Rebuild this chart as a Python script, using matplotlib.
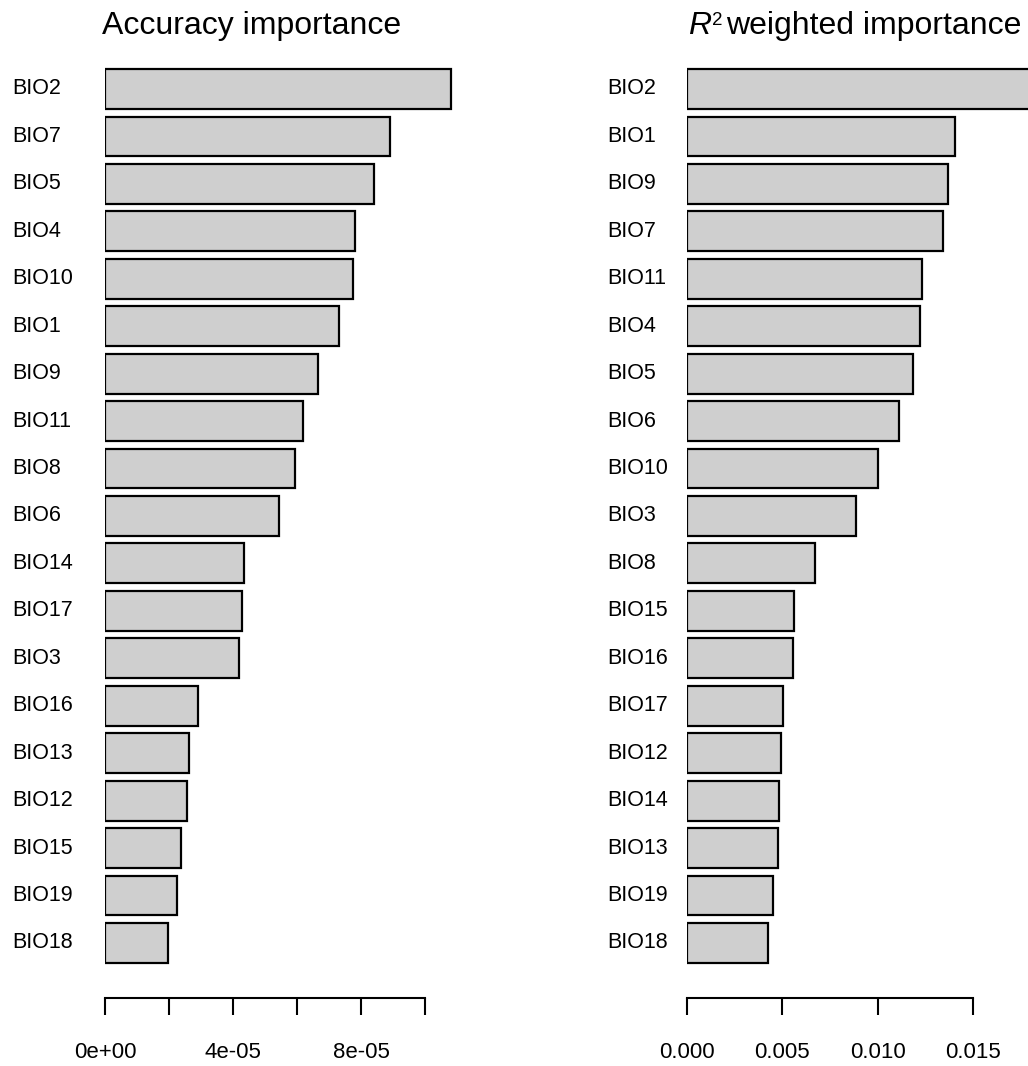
import numpy as np
import matplotlib
matplotlib.use("Agg")
import matplotlib.pyplot as plt
import matplotlib.transforms as mtrans

plt.rcParams['font.family'] = ['Liberation Sans', 'DejaVu Sans']

# Accuracy importance (sorted, top to bottom)
acc_names = ["BIO2", "BIO7", "BIO5", "BIO4", "BIO10", "BIO1", "BIO9", "BIO11", "BIO8", "BIO6",
             "BIO14", "BIO17", "BIO3", "BIO16", "BIO13", "BIO12", "BIO15", "BIO19", "BIO18"]
acc_vals = [1.081e-4, 8.91e-5, 8.41e-5, 7.81e-5, 7.75e-5, 7.31e-5, 6.66e-5, 6.19e-5, 5.94e-5, 5.44e-5,
            4.34e-5, 4.28e-5, 4.19e-5, 2.91e-5, 2.63e-5, 2.56e-5, 2.38e-5, 2.25e-5, 1.97e-5]
acc_ticks = [0, 2e-5, 4e-5, 6e-5, 8e-5, 1e-4]
acc_ticklabels = ["0e+00", "", "4e-05", "", "8e-05", ""]

# R2 weighted importance
r2_names = ["BIO2", "BIO1", "BIO9", "BIO7", "BIO11", "BIO4", "BIO5", "BIO6", "BIO10", "BIO3",
            "BIO8", "BIO15", "BIO16", "BIO17", "BIO12", "BIO14", "BIO13", "BIO19", "BIO18"]
r2_vals = [0.0185, 0.01406, 0.01369, 0.01343, 0.01233, 0.01222, 0.01185, 0.01112, 0.01002, 0.00886,
           0.00671, 0.00561, 0.00556, 0.00503, 0.00493, 0.00482, 0.00477, 0.00451, 0.00425]
r2_ticks = [0, 0.005, 0.010, 0.015]
r2_ticklabels = ["0.000", "0.005", "0.010", "0.015"]

W, H = 1028, 1066
fig = plt.figure(figsize=(W / 100, H / 100), dpi=100)

# pixel geometry
top_c, step = 89, 47.44
ax_top, ax_bot = 60, 998
ylo = (ax_bot - top_c) / step
yhi = (ax_top - top_c) / step


def panel(x0px, x1px, px_per_unit, names, vals, ticks, ticklabels, label_x):
    ax = fig.add_axes([x0px / W, 1 - ax_bot / H, (x1px - x0px) / W, (ax_bot - ax_top) / H])
    y = np.arange(len(names))
    ax.barh(y, vals, height=0.84, color="#cfcfcf", edgecolor="black", linewidth=1.6)
    ax.set_xlim(0, (x1px - x0px) / px_per_unit)
    ax.set_ylim(ylo, yhi)
    for s in ["top", "right", "left"]:
        ax.spines[s].set_visible(False)
    ax.spines["bottom"].set_linewidth(1.5)
    ax.spines["bottom"].set_bounds(ticks[0], ticks[-1])
    ax.set_yticks([])
    ax.set_xticks(ticks)
    ax.set_xticklabels(ticklabels, fontsize=16)
    ax.tick_params(axis="x", length=12, width=1.5, pad=20)
    tr = mtrans.blended_transform_factory(fig.transFigure, ax.transData)
    for yi, n in zip(y, names):
        ax.text(label_x / W, yi, n, transform=tr, ha="left", va="center", fontsize=15.5)
    return ax


panel(105, 520, 64 / 2e-5, acc_names, acc_vals, acc_ticks, acc_ticklabels, 12)
panel(687, 1028, 95.3 / 0.005, r2_names, r2_vals, r2_ticks, r2_ticklabels, 607)

# titles (R^2 built from pieces so the superscript sits like the original)
fig.text(102 / W, 1 - 34 / H, "Accuracy importance", ha="left", va="baseline", fontsize=23)
fig.text(688 / W, 1 - 34 / H, "R", style="italic", ha="left", va="baseline", fontsize=23)
fig.text(712 / W, 1 - 25 / H, "2", ha="left", va="baseline", fontsize=13.5)
fig.text(726 / W, 1 - 34 / H, "weighted importance", ha="left", va="baseline", fontsize=23)

fig.savefig("out.png", dpi=100)
